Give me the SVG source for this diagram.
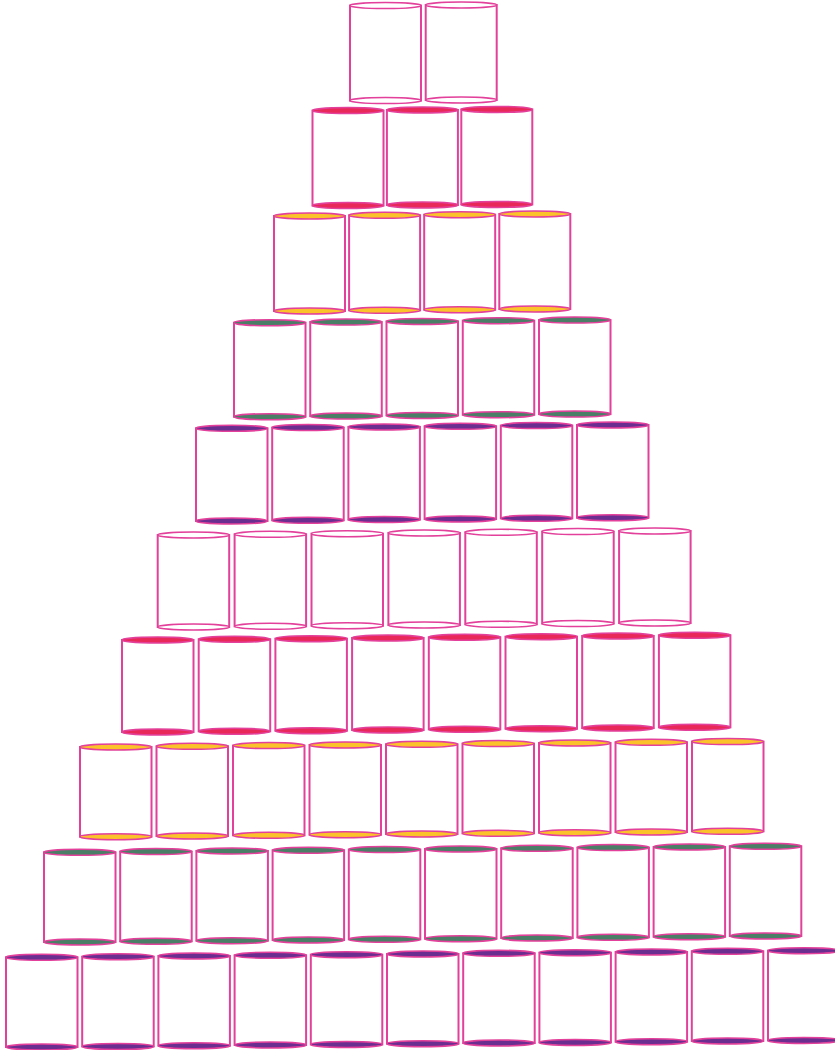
<svg xmlns="http://www.w3.org/2000/svg" width="835" height="1050" viewBox="0 0 835 1050">
<style>
.can{stroke:#e2409a}
.w{fill:#ffffff}
.r{fill:#e9285a}
.y{fill:#fcc22a}
.g{fill:#4a7e66}
.p{fill:#6a2d90}
</style>
<rect width="835" height="1050" fill="#ffffff"/>
<defs>
<g id="h95"><rect x="0" y="0" width="71" height="95" fill="#ffffff" stroke-width="2"/><ellipse cx="35.5" cy="95" rx="35.5" ry="3" stroke-width="1.5"/><ellipse cx="35.5" cy="0" rx="35.5" ry="3" stroke-width="1.5"/></g>
<g id="h94"><rect x="0" y="0" width="71.5" height="94" fill="#ffffff" stroke-width="2"/><ellipse cx="35.75" cy="94" rx="35.75" ry="3" stroke-width="1.5"/><ellipse cx="35.75" cy="0" rx="35.75" ry="3" stroke-width="1.5"/></g>
<g id="h93"><rect x="0" y="0" width="71.5" height="92.7" fill="#ffffff" stroke-width="2"/><ellipse cx="35.75" cy="92.7" rx="35.75" ry="3" stroke-width="1.5"/><ellipse cx="35.75" cy="0" rx="35.75" ry="3" stroke-width="1.5"/></g>
<g id="h92"><rect x="0" y="0" width="71.5" height="92" fill="#ffffff" stroke-width="2"/><ellipse cx="35.75" cy="92" rx="35.75" ry="3" stroke-width="1.5"/><ellipse cx="35.75" cy="0" rx="35.75" ry="3" stroke-width="1.5"/></g>
<g id="h90"><rect x="0" y="0" width="71.5" height="89.7" fill="#ffffff" stroke-width="2"/><ellipse cx="35.75" cy="89.7" rx="35.75" ry="3" stroke-width="1.5"/><ellipse cx="35.75" cy="0" rx="35.75" ry="3" stroke-width="1.5"/></g>
</defs>
<g id="row1">
<g id="can-1-1" class="can w" transform="translate(350,5.6)"><use href="#h95"/></g>
<g id="can-1-2" class="can w" transform="translate(425.7,5.0)"><use href="#h95"/></g>
</g>
<g id="row2">
<g id="can-2-1" class="can r" transform="translate(312.5,110.6)"><use href="#h95"/></g>
<g id="can-2-2" class="can r" transform="translate(386.9,110.0)"><use href="#h95"/></g>
<g id="can-2-3" class="can r" transform="translate(461.3,109.4)"><use href="#h95"/></g>
</g>
<g id="row3">
<g id="can-3-1" class="can y" transform="translate(274,216.0)"><use href="#h95"/></g>
<g id="can-3-2" class="can y" transform="translate(349.1,215.3)"><use href="#h95"/></g>
<g id="can-3-3" class="can y" transform="translate(424.2,214.7)"><use href="#h95"/></g>
<g id="can-3-4" class="can y" transform="translate(499.3,214.0)"><use href="#h95"/></g>
</g>
<g id="row4">
<g id="can-4-1" class="can g" transform="translate(234,322.7)"><use href="#h94"/></g>
<g id="can-4-2" class="can g" transform="translate(310.25,322.1)"><use href="#h94"/></g>
<g id="can-4-3" class="can g" transform="translate(386.5,321.4)"><use href="#h94"/></g>
<g id="can-4-4" class="can g" transform="translate(462.75,320.7)"><use href="#h94"/></g>
<g id="can-4-5" class="can g" transform="translate(539,320.1)"><use href="#h94"/></g>
</g>
<g id="row5">
<g id="can-5-1" class="can p" transform="translate(196,428.3)"><use href="#h93"/></g>
<g id="can-5-2" class="can p" transform="translate(272.2,427.6)"><use href="#h93"/></g>
<g id="can-5-3" class="can p" transform="translate(348.4,426.9)"><use href="#h93"/></g>
<g id="can-5-4" class="can p" transform="translate(424.6,426.3)"><use href="#h93"/></g>
<g id="can-5-5" class="can p" transform="translate(500.8,425.6)"><use href="#h93"/></g>
<g id="can-5-6" class="can p" transform="translate(577,425.0)"><use href="#h93"/></g>
</g>
<g id="row6">
<g id="can-6-1" class="can w" transform="translate(157.7,535.0)"><use href="#h92"/></g>
<g id="can-6-2" class="can w" transform="translate(234.6,534.3)"><use href="#h92"/></g>
<g id="can-6-3" class="can w" transform="translate(311.5,533.7)"><use href="#h92"/></g>
<g id="can-6-4" class="can w" transform="translate(388.4,533.0)"><use href="#h92"/></g>
<g id="can-6-5" class="can w" transform="translate(465.3,532.3)"><use href="#h92"/></g>
<g id="can-6-6" class="can w" transform="translate(542.2,531.6)"><use href="#h92"/></g>
<g id="can-6-7" class="can w" transform="translate(619.1,531.0)"><use href="#h92"/></g>
</g>
<g id="row7">
<g id="can-7-1" class="can r" transform="translate(122,640.0)"><use href="#h92"/></g>
<g id="can-7-2" class="can r" transform="translate(198.7,639.3)"><use href="#h92"/></g>
<g id="can-7-3" class="can r" transform="translate(275.4,638.7)"><use href="#h92"/></g>
<g id="can-7-4" class="can r" transform="translate(352.1,638.0)"><use href="#h92"/></g>
<g id="can-7-5" class="can r" transform="translate(428.8,637.3)"><use href="#h92"/></g>
<g id="can-7-6" class="can r" transform="translate(505.5,636.7)"><use href="#h92"/></g>
<g id="can-7-7" class="can r" transform="translate(582.2,636.0)"><use href="#h92"/></g>
<g id="can-7-8" class="can r" transform="translate(658.9,635.3)"><use href="#h92"/></g>
</g>
<g id="row8">
<g id="can-8-1" class="can y" transform="translate(80,747.0)"><use href="#h90"/></g>
<g id="can-8-2" class="can y" transform="translate(156.5,746.3)"><use href="#h90"/></g>
<g id="can-8-3" class="can y" transform="translate(233,745.6)"><use href="#h90"/></g>
<g id="can-8-4" class="can y" transform="translate(309.5,745.0)"><use href="#h90"/></g>
<g id="can-8-5" class="can y" transform="translate(386,744.3)"><use href="#h90"/></g>
<g id="can-8-6" class="can y" transform="translate(462.5,743.6)"><use href="#h90"/></g>
<g id="can-8-7" class="can y" transform="translate(539,743.0)"><use href="#h90"/></g>
<g id="can-8-8" class="can y" transform="translate(615.5,742.3)"><use href="#h90"/></g>
<g id="can-8-9" class="can y" transform="translate(692,741.6)"><use href="#h90"/></g>
</g>
<g id="row9">
<g id="can-9-1" class="can g" transform="translate(44,852.3)"><use href="#h90"/></g>
<g id="can-9-2" class="can g" transform="translate(120.2,851.6)"><use href="#h90"/></g>
<g id="can-9-3" class="can g" transform="translate(196.4,851.0)"><use href="#h90"/></g>
<g id="can-9-4" class="can g" transform="translate(272.6,850.3)"><use href="#h90"/></g>
<g id="can-9-5" class="can g" transform="translate(348.8,849.6)"><use href="#h90"/></g>
<g id="can-9-6" class="can g" transform="translate(425,849.0)"><use href="#h90"/></g>
<g id="can-9-7" class="can g" transform="translate(501.2,848.3)"><use href="#h90"/></g>
<g id="can-9-8" class="can g" transform="translate(577.4,847.6)"><use href="#h90"/></g>
<g id="can-9-9" class="can g" transform="translate(653.6,847.0)"><use href="#h90"/></g>
<g id="can-9-10" class="can g" transform="translate(729.8,846.3)"><use href="#h90"/></g>
</g>
<g id="row10">
<g id="can-10-1" class="can p" transform="translate(6,957.3)"><use href="#h90"/></g>
<g id="can-10-2" class="can p" transform="translate(82.2,956.7)"><use href="#h90"/></g>
<g id="can-10-3" class="can p" transform="translate(158.4,956.0)"><use href="#h90"/></g>
<g id="can-10-4" class="can p" transform="translate(234.6,955.3)"><use href="#h90"/></g>
<g id="can-10-5" class="can p" transform="translate(310.8,954.7)"><use href="#h90"/></g>
<g id="can-10-6" class="can p" transform="translate(387,954.0)"><use href="#h90"/></g>
<g id="can-10-7" class="can p" transform="translate(463.2,953.3)"><use href="#h90"/></g>
<g id="can-10-8" class="can p" transform="translate(539.4,952.7)"><use href="#h90"/></g>
<g id="can-10-9" class="can p" transform="translate(615.6,952.0)"><use href="#h90"/></g>
<g id="can-10-10" class="can p" transform="translate(691.8,951.3)"><use href="#h90"/></g>
<g id="can-10-11" class="can p" transform="translate(768,950.7)"><use href="#h90"/></g>
</g>
</svg>
